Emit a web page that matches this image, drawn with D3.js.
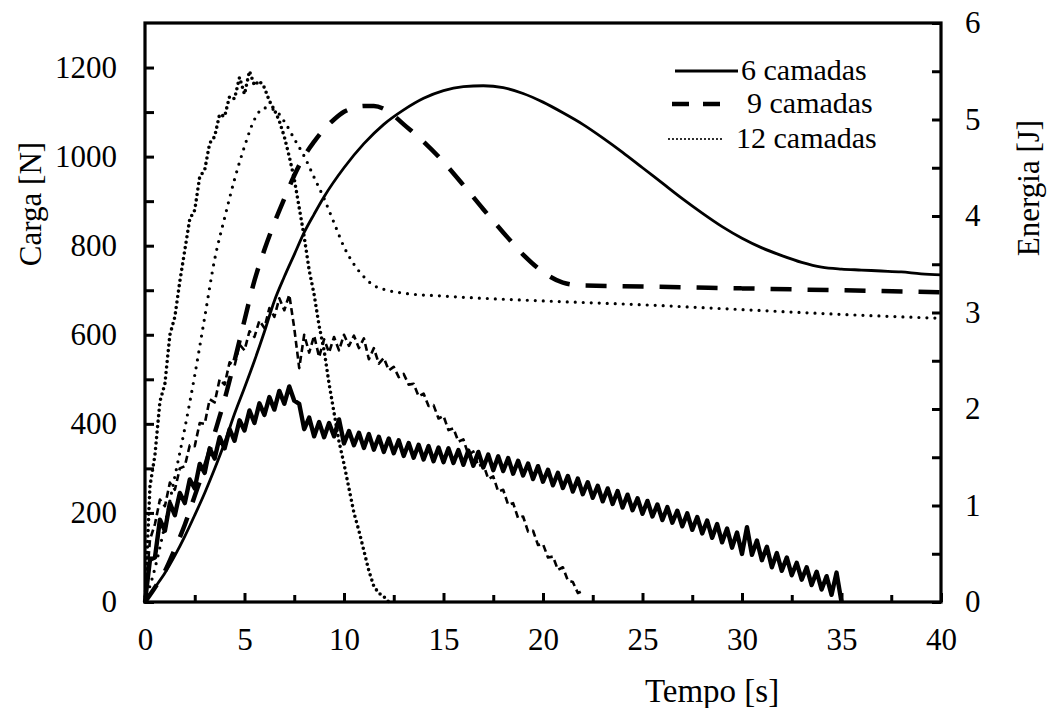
<!DOCTYPE html>
<html><head><meta charset="utf-8">
<script src="https://cdn.jsdelivr.net/npm/d3@7"></script>
<style>body{margin:0;background:#fff} svg{display:block} text{font-family:"Liberation Serif","Times New Roman",serif;}</style>
</head><body>
<svg id="c" width="1049" height="708"></svg>
<script>
// ---------- DATA ----------
const seriesNames = ["6 camadas", "9 camadas", "12 camadas"];
const xTickValues = [0, 5, 10, 15, 20, 25, 30, 35, 40];
const yLeftTickValues = [0, 200, 400, 600, 800, 1000, 1200];
const yRightTickValues = [0, 1, 2, 3, 4, 5, 6];
const xTitle = "Tempo [s]";
const yLeftTitle = "Carga [N]";
const yRightTitle = "Energia [J]";

// Load (Carga) – sampled every 0.25 s (one row = one second)
const load6Step = 0.25;
const load6 = [
  0,95,100,185, 160,222,195,245, 222,275,255,310, 290,345,322,370, 345,388,362,408,
  385,430,402,446, 420,460,432,474, 445,484,452,445, 388,414,372,404, 370,402,372,410,
  356,384,352,380, 346,377,342,371, 337,367,334,363, 328,357,324,353, 320,350,316,347,
  314,345,312,341, 308,340,306,337, 302,331,296,327, 294,323,288,317, 284,311,276,305,
  270,297,262,290, 256,283,248,277, 242,269,234,261, 226,255,220,249, 212,241,206,233,
  198,227,192,219, 184,213,178,205, 170,199,162,191, 154,183,144,175, 134,165,122,156,
  108,168,106,138, 94,124,78,110, 70,100,60,88, 50,78,38,68, 28,58,16,66, 0];
const load9Step = 0.25;
const load9 = [0,140,175,230,215,268,252,300,305,352,350,402,400,455,448,500,488,538,530,578,565,608,595,632,615,660,640,682,655,690,615,525,600,560,598,550,590,560,595,565,600,575,598,570,592,545,570,535,548,520,528,505,512,488,490,462,468,440,442,412,418,386,390,360,365,330,338,305,310,276,282,248,252,218,222,188,192,158,160,128,130,100,102,72,78,48,45,20,25];
const load12Step = 0.25;
const load12 = [0,260,330,450,490,600,640,720,790,860,880,955,970,1030,1045,1095,1090,1135,1130,1178,1140,1192,1160,1170,1155,1125,1105,1080,1045,1000,950,885,820,745,690,620,565,490,425,360,310,255,200,160,115,70,35,20,12,0];

// Energy (Energia)
const e6Time = [0,0.5,1,1.5,2,2.5,3,3.5,4,4.5,5,5.5,6,6.5,7,7.5,8,8.5,9,10,11,12,13,14,15,16,17,18,19,20,21,22,23,24,25,26,27,28,29,30,31,32,33,34,35,36,37,38,39,40];
const e6 = [0,0.15,0.3,0.48,0.68,0.9,1.13,1.38,1.65,1.95,2.22,2.5,2.8,3.12,3.37,3.6,3.83,4.02,4.2,4.5,4.75,4.95,5.1,5.22,5.3,5.34,5.35,5.33,5.27,5.18,5.07,4.95,4.81,4.66,4.5,4.34,4.18,4.03,3.89,3.77,3.67,3.59,3.52,3.47,3.45,3.44,3.43,3.42,3.4,3.39];
const e9Time = [0,0.5,1,1.5,2,2.5,3,3.5,4,4.5,5,5.5,6,6.5,7,7.5,8,8.5,9,9.5,10,10.5,11,11.5,12,12.5,13,14,15,16,17,18,19,20,21,22,25,30,35,40];
const e9 = [0,0.15,0.32,0.55,0.8,1.1,1.4,1.75,2.1,2.5,2.92,3.33,3.65,3.93,4.18,4.42,4.62,4.77,4.9,5.0,5.08,5.12,5.14,5.14,5.11,5.04,4.95,4.77,4.56,4.32,4.07,3.83,3.6,3.42,3.31,3.28,3.27,3.25,3.23,3.21];
const e12Time = [0,0.5,1,1.5,2,2.5,3,3.5,4,4.5,5,5.5,6,6.5,7,7.5,8,8.5,9,9.5,10,10.5,11,11.5,12,13,15,20,25,30,35,40];
const e12 = [0,0.35,0.8,1.3,1.8,2.35,2.95,3.55,3.98,4.38,4.72,5.0,5.12,5.1,4.98,4.8,4.62,4.4,4.18,3.93,3.68,3.5,3.37,3.28,3.24,3.2,3.17,3.12,3.08,3.03,2.98,2.94];

// ---------- LAYOUT ----------
const L = 145, R = 941, T = 23, B = 602;
const FONT = "Liberation Serif, Times New Roman, serif";
const svg = d3.select("#c");

const x = d3.scaleLinear().domain([0, 40]).range([L, R]);
const yL = d3.scaleLinear().domain([0, 1300]).range([B, T]);
const yR = d3.scaleLinear().domain([0, 6]).range([B, T]);

const styles = {
  solidE:  {w: 2.8, dash: null, cap: "butt"},
  dashE:   {w: 4.5, dash: "21,16", cap: "butt"},
  dotE:    {w: 3.2, dash: "0,8", cap: "round"},
  solidL:  {w: 4.4, dash: null, cap: "butt"},
  dashL:   {w: 2.6, dash: "7,4", cap: "butt"},
  dotL:    {w: 3.6, dash: "0,5.5", cap: "round"}
};

function drawPath(pts, yScale, st, curve) {
  const line = d3.line().x(d => x(d[0])).y(d => yScale(d[1])).curve(curve || d3.curveLinear);
  const p = svg.append("path").datum(pts).attr("d", line)
    .attr("fill", "none").attr("stroke", "#000")
    .attr("stroke-width", st.w).attr("stroke-linecap", st.cap)
    .attr("stroke-linejoin", "round");
  if (st.dash) p.attr("stroke-dasharray", st.dash);
}

const pts = (vals, step) => vals.map((v, i) => [i * step, v]);
const zipT = (ts, vs) => ts.map((t, i) => [t, vs[i]]);

// load curves
drawPath(pts(load6, load6Step), yL, styles.solidL);
drawPath(pts(load9, load9Step), yL, styles.dashL);
drawPath(pts(load12, load12Step), yL, styles.dotL);
// energy curves
drawPath(zipT(e6Time, e6), yR, styles.solidE, d3.curveMonotoneX);
drawPath(zipT(e9Time, e9), yR, styles.dashE, d3.curveMonotoneX);
drawPath(zipT(e12Time, e12), yR, styles.dotE, d3.curveMonotoneX);

// ---------- AXES ----------
function styleAxis(g) {
  g.select(".domain").remove();
  g.selectAll(".tick line").attr("stroke", "#000").attr("stroke-width", 3);
  g.selectAll("text").attr("font-family", FONT).attr("font-size", 31).attr("fill", "#000");
}
// minor ticks
svg.append("g").attr("transform", `translate(0,${B})`)
  .call(d3.axisBottom(x).tickValues(d3.range(2.5, 40, 5)).tickSize(-7).tickFormat(""))
  .call(styleAxis);
svg.append("g").attr("transform", `translate(${L},0)`)
  .call(d3.axisLeft(yL).tickValues(d3.range(100, 1300, 200)).tickSize(-9).tickFormat(""))
  .call(styleAxis);
svg.append("g").attr("transform", `translate(${R},0)`)
  .call(d3.axisRight(yR).tickValues(d3.range(0.5, 6, 1)).tickSize(-9).tickFormat(""))
  .call(styleAxis);
// major ticks
svg.append("g").attr("transform", `translate(0,${B})`)
  .call(d3.axisBottom(x).tickValues(xTickValues).tickSize(-9).tickPadding(26).tickFormat(d3.format("d")))
  .call(styleAxis);
svg.append("g").attr("transform", `translate(${L},0)`)
  .call(d3.axisLeft(yL).tickValues(yLeftTickValues).tickSize(-9).tickPadding(28).tickFormat(d3.format("d")))
  .call(styleAxis);
svg.append("g").attr("transform", `translate(${R},0)`)
  .call(d3.axisRight(yR).tickValues(yRightTickValues).tickSize(-9).tickPadding(24).tickFormat(d3.format("d")))
  .call(styleAxis);

// frame
svg.append("rect").attr("x", L).attr("y", T).attr("width", R - L).attr("height", B - T)
  .attr("fill", "none").attr("stroke", "#000").attr("stroke-width", 3.2);

// titles
svg.append("text").attr("x", 712).attr("y", 702).attr("text-anchor", "middle")
  .attr("font-family", FONT).attr("font-size", 33).text(xTitle);
svg.append("text").attr("transform", "translate(41,204) rotate(-90)").attr("text-anchor", "middle")
  .attr("font-family", FONT).attr("font-size", 31).text(yLeftTitle);
svg.append("text").attr("transform", "translate(1039,188) rotate(-90)").attr("text-anchor", "middle")
  .attr("font-family", FONT).attr("font-size", 31).text(yRightTitle);

// legend
const legendStyles = [
  {w: 2.8, dash: null, cap: "butt", x1: 675, x2: 738, y: 71, tx: 741, ty: 80},
  {w: 4.5, dash: "17,14", cap: "butt", x1: 672, x2: 727, y: 104, tx: 747, ty: 113},
  {w: 2.2, dash: "0,4", cap: "round", x1: 669, x2: 722, y: 139, tx: 736, ty: 148}
];
seriesNames.forEach((name, i) => {
  const s = legendStyles[i];
  const ln = svg.append("line").attr("x1", s.x1).attr("x2", s.x2).attr("y1", s.y).attr("y2", s.y)
    .attr("stroke", "#000").attr("stroke-width", s.w).attr("stroke-linecap", s.cap);
  if (s.dash) ln.attr("stroke-dasharray", s.dash);
  svg.append("text").attr("x", s.tx).attr("y", s.ty).attr("font-family", FONT)
    .attr("font-size", 30).text(name);
});
</script>
</body></html>
